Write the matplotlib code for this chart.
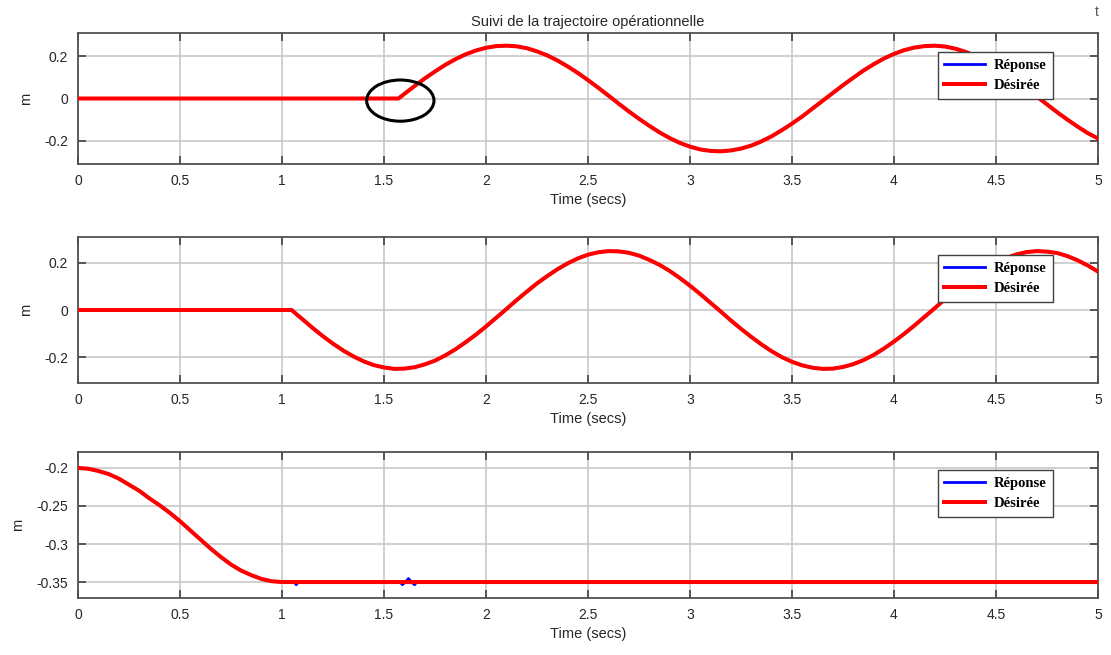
import matplotlib
matplotlib.use("Agg")
import matplotlib.pyplot as plt
from matplotlib.patches import Ellipse

# ---- data (time in s, position in m) ----
# X coordinate
t_x = [0.0, 1.5708, 1.6, 1.65, 1.7, 1.75, 1.8, 1.85, 1.9, 1.95, 2.0, 2.05,
       2.1, 2.15, 2.2, 2.25, 2.3, 2.35, 2.4, 2.45, 2.5, 2.55, 2.6, 2.65, 2.7,
       2.75, 2.8, 2.85, 2.9, 2.95, 3.0, 3.05, 3.1, 3.15, 3.2, 3.25, 3.3, 3.35,
       3.4, 3.45, 3.5, 3.55, 3.6, 3.65, 3.7, 3.75, 3.8, 3.85, 3.9, 3.95, 4.0,
       4.05, 4.1, 4.15, 4.2, 4.25, 4.3, 4.35, 4.4, 4.45, 4.5, 4.55, 4.6, 4.65,
       4.7, 4.75, 4.8, 4.85, 4.9, 4.95, 5.0]
x_des = [0.0, 0.0, 0.022, 0.059, 0.095, 0.128, 0.159, 0.186, 0.209, 0.227,
         0.240, 0.248, 0.250, 0.247, 0.238, 0.223, 0.204, 0.180, 0.152, 0.121,
         0.087, 0.051, 0.014, -0.024, -0.061, -0.096, -0.129, -0.160, -0.187,
         -0.210, -0.228, -0.241, -0.248, -0.250, -0.246, -0.237, -0.223,
         -0.203, -0.179, -0.150, -0.119, -0.085, -0.048, -0.011, 0.026, 0.063,
         0.098, 0.132, 0.162, 0.189, 0.211, 0.229, 0.241, 0.248, 0.250, 0.246,
         0.236, 0.221, 0.201, 0.177, 0.149, 0.117, 0.083, 0.047, 0.009, -0.028,
         -0.065, -0.100, -0.133, -0.164, -0.189]
x_rep = list(x_des)

# Y coordinate
t_y = [0.0, 1.0472, 1.075, 1.1, 1.15, 1.2, 1.25, 1.3, 1.35, 1.4, 1.45, 1.5,
       1.55, 1.6, 1.65, 1.7, 1.75, 1.8, 1.85, 1.9, 1.95, 2.0, 2.05, 2.1, 2.15,
       2.2, 2.25, 2.3, 2.35, 2.4, 2.45, 2.5, 2.55, 2.6, 2.65, 2.7, 2.75, 2.8,
       2.85, 2.9, 2.95, 3.0, 3.05, 3.1, 3.15, 3.2, 3.25, 3.3, 3.35, 3.4, 3.45,
       3.5, 3.55, 3.6, 3.65, 3.7, 3.75, 3.8, 3.85, 3.9, 3.95, 4.0, 4.05, 4.1,
       4.15, 4.2, 4.25, 4.3, 4.35, 4.4, 4.45, 4.5, 4.55, 4.6, 4.65, 4.7, 4.75,
       4.8, 4.85, 4.9, 4.95, 5.0]
y_des = [0.0, 0.0, -0.021, -0.039, -0.076, -0.111, -0.143, -0.172, -0.197,
         -0.218, -0.234, -0.244, -0.250, -0.249, -0.243, -0.231, -0.215,
         -0.193, -0.167, -0.137, -0.105, -0.070, -0.033, 0.004, 0.042, 0.078,
         0.113, 0.144, 0.173, 0.198, 0.219, 0.235, 0.245, 0.250, 0.249, 0.243,
         0.231, 0.213, 0.192, 0.166, 0.136, 0.103, 0.068, 0.031, -0.006,
         -0.044, -0.080, -0.114, -0.146, -0.175, -0.200, -0.220, -0.235,
         -0.245, -0.250, -0.249, -0.242, -0.230, -0.213, -0.191, -0.164,
         -0.134, -0.101, -0.066, -0.029, 0.008, 0.046, 0.082, 0.116, 0.147,
         0.176, 0.201, 0.221, 0.236, 0.246, 0.250, 0.248, 0.242, 0.229, 0.211,
         0.189, 0.163]
y_rep = list(y_des)

# Z coordinate
t_z = [0.0, 0.05, 0.1, 0.15, 0.2, 0.25, 0.3, 0.35, 0.4, 0.45, 0.5, 0.55, 0.6,
       0.65, 0.7, 0.75, 0.8, 0.85, 0.9, 0.95, 1.0, 5.0]
z_des = [-0.200, -0.201, -0.204, -0.208, -0.214, -0.222, -0.230, -0.240,
         -0.249, -0.259, -0.270, -0.282, -0.294, -0.306, -0.317, -0.327,
         -0.335, -0.341, -0.346, -0.349, -0.350, -0.350]
t_z_rep = [0.0, 0.05, 0.1, 0.15, 0.2, 0.25, 0.3, 0.35, 0.4, 0.45, 0.5, 0.55,
           0.6, 0.65, 0.7, 0.75, 0.8, 0.85, 0.9, 0.95, 1.0, 1.06, 1.07, 1.08,
           1.58, 1.59, 1.605, 1.62, 1.635, 1.65, 1.66, 5.0]
z_rep = [-0.200, -0.201, -0.204, -0.208, -0.214, -0.222, -0.230, -0.240,
         -0.249, -0.259, -0.270, -0.282, -0.294, -0.306, -0.317, -0.327,
         -0.335, -0.341, -0.346, -0.349, -0.350, -0.350, -0.3535, -0.350,
         -0.350, -0.3535, -0.350, -0.3455, -0.350, -0.3535, -0.350, -0.350]

series = [
    (t_x, x_rep, t_x, x_des, (-0.31, 0.31), [-0.2, 0, 0.2]),
    (t_y, y_rep, t_y, y_des, (-0.31, 0.31), [-0.2, 0, 0.2]),
    (t_z_rep, z_rep, t_z, z_des, (-0.371, -0.179), [-0.35, -0.3, -0.25, -0.2]),
]
x_ticks = [0, 0.5, 1, 1.5, 2, 2.5, 3, 3.5, 4, 4.5, 5]
x_ticklabels = ["0", "0.5", "1", "1.5", "2", "2.5", "3", "3.5", "4", "4.5", "5"]

# ---- figure ----
plt.rcParams["font.family"] = ["Liberation Sans", "DejaVu Sans"]
txt = "#262626"
fig = plt.figure(figsize=(11.11, 6.55), dpi=100)
W, H = 1111, 655
boxes = [(33, 164), (237, 383), (452, 598)]
legend_top = [0.855, 0.877, 0.877]
left_px, right_px = 78, 1098

axes = []
for i, ((tr, vr, td, vd, ylim, yt), (top, bot)) in enumerate(zip(series, boxes)):
    ax = fig.add_axes([left_px / W, 1 - bot / H, (right_px - left_px) / W, (bot - top) / H])
    axes.append(ax)
    ax.plot(tr, vr, color="#0000ff", lw=2.0, label="Réponse", zorder=3)
    ax.plot(td, vd, color="#ff0000", lw=2.9, label="Désirée", zorder=4,
            solid_joinstyle="round")
    ax.set_xlim(0, 5)
    ax.set_ylim(*ylim)
    ax.set_xticks(x_ticks)
    ax.set_xticklabels(x_ticklabels)
    ax.set_yticks(yt)
    ax.set_yticklabels([("%g" % v) for v in yt])
    ax.grid(True, color="#c8c8c8", lw=1.2)
    ax.set_axisbelow(True)
    ax.tick_params(direction="in", length=6, width=1.2, top=True, right=True,
                   labelsize=10, colors="#404040", labelcolor=txt, pad=7)
    for sp in ax.spines.values():
        sp.set_color("#505050")
        sp.set_linewidth(1.3)
    ax.set_xlabel("Time (secs)", fontsize=10.5, color=txt, labelpad=4)
    ax.set_ylabel("m", fontsize=10.5, color=txt, labelpad=8)
    leg = ax.legend(loc="upper right", bbox_to_anchor=(0.956, legend_top[i]),
                    borderaxespad=0, fancybox=False, framealpha=1,
                    edgecolor="#404040", handlelength=2.8, handletextpad=0.6,
                    labelspacing=0.5, borderpad=0.45,
                    prop={"family": ["Liberation Serif", "DejaVu Serif"],
                          "weight": "bold", "size": 10.5})
    leg.get_frame().set_linewidth(1.0)
    leg.set_zorder(10)

axes[0].set_title("Suivi de la trajectoire opérationnelle", fontsize=10.5,
                  color=txt, pad=5)

# marker around the start of the first trajectory
axes[0].add_patch(Ellipse((1.58, -0.01), 0.33, 0.195, fill=False,
                          edgecolor="black", lw=2.2, zorder=6))

fig.text(1097 / W, 1 - 12 / H, "t", fontsize=10, color="#555555",
         ha="center", va="center")

fig.savefig("out.png", dpi=100, facecolor="white")
